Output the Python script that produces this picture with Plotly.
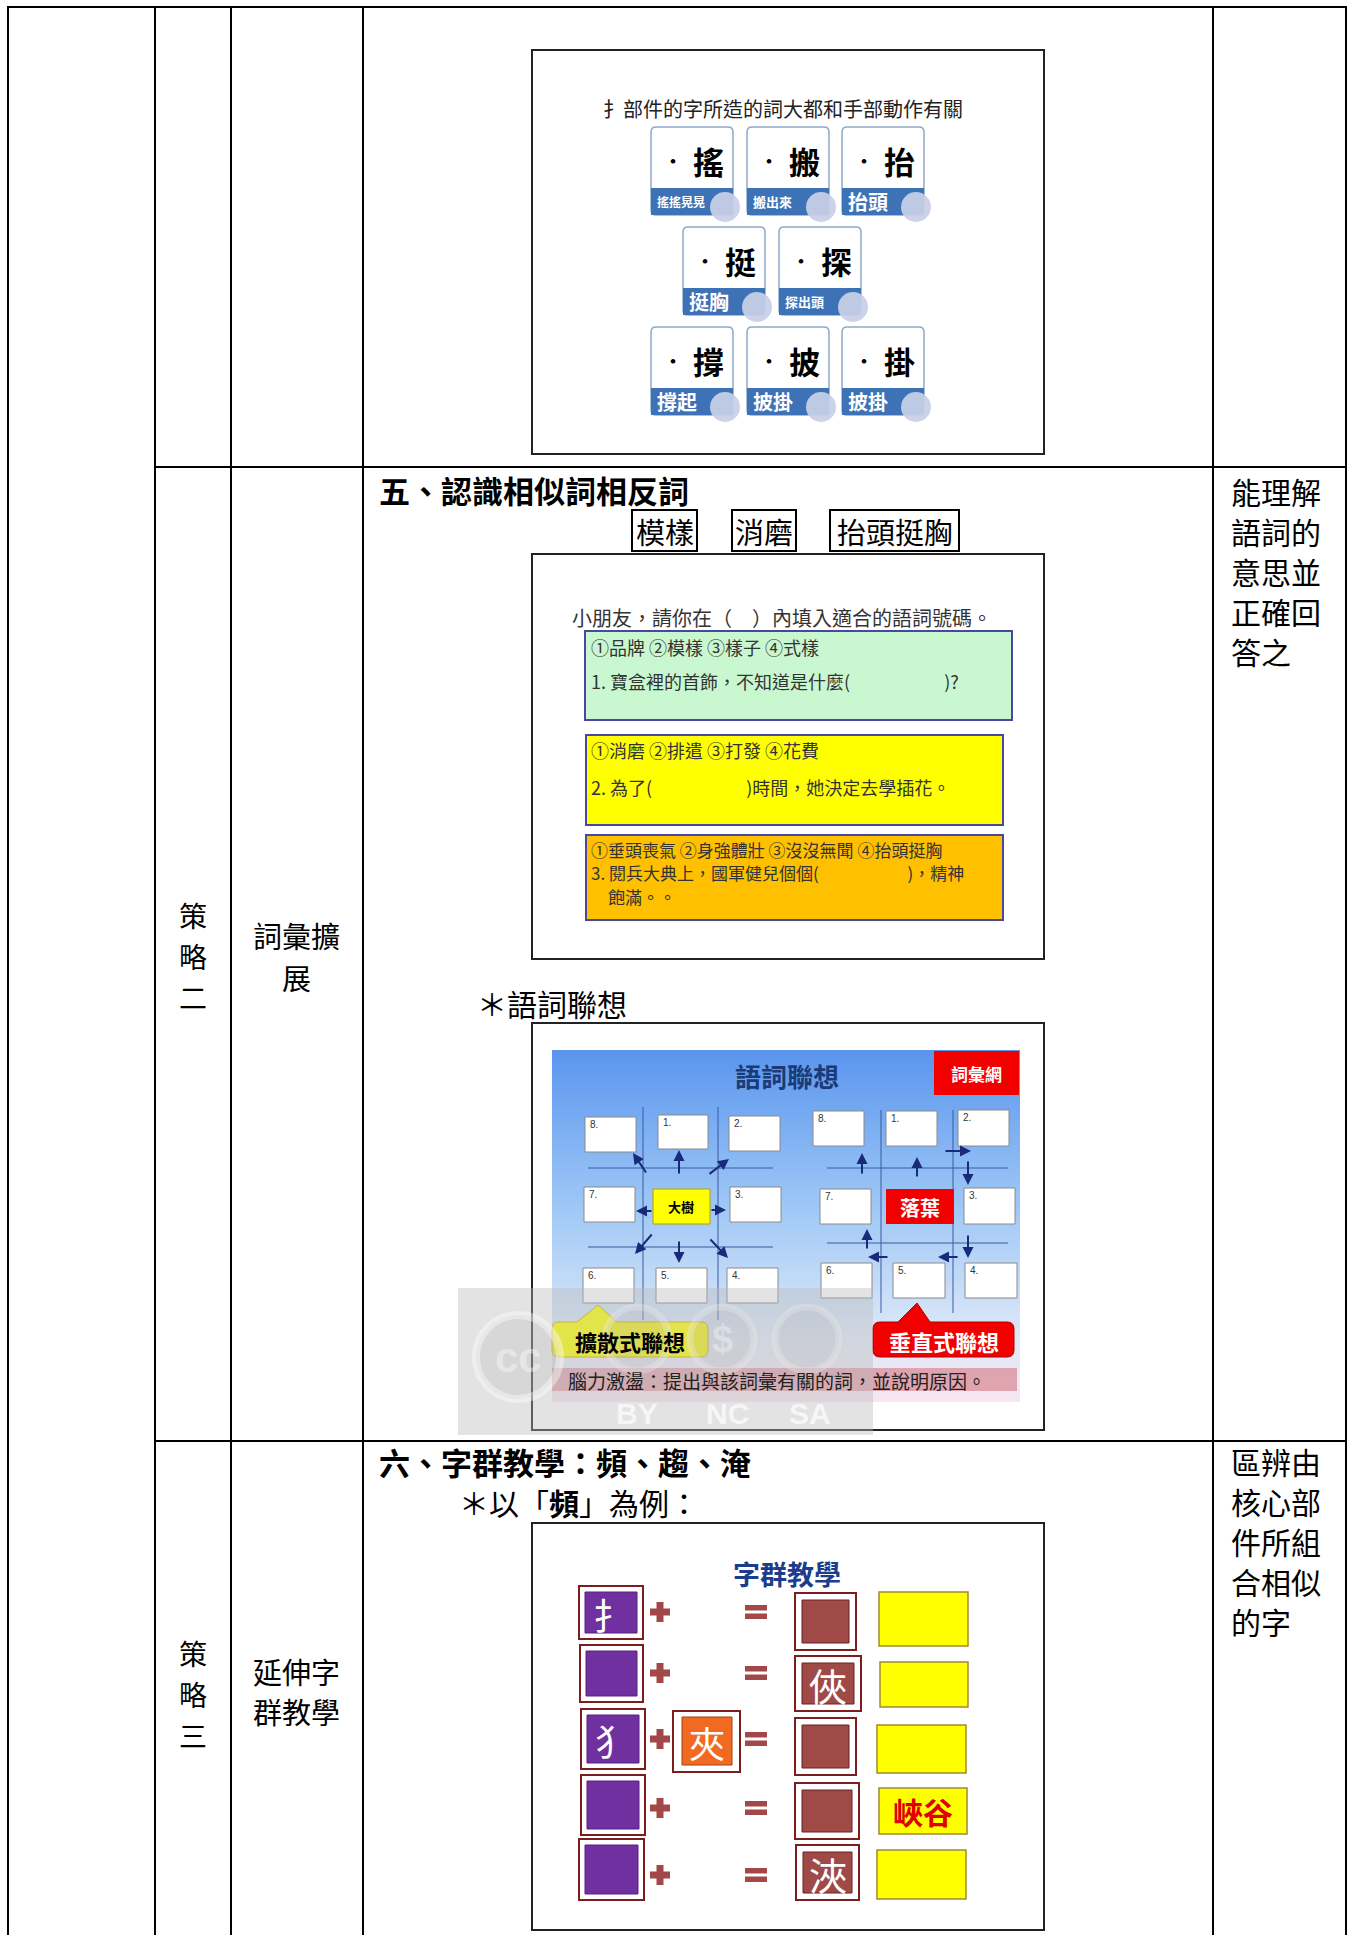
import plotly.graph_objects as go

W, H = 1353, 1935
FONT = "Noto Sans CJK TC"
LATIN = "Liberation Sans"

# ---------------- text content ----------------
strategy_labels = [["策", "略", "二"], ["策", "略", "三"]]
strategy_names = [["詞彙擴", "展"], ["延伸字", "群教學"]]
goal_texts = [["能理解", "語詞的", "意思並", "正確回", "答之"],
              ["區辨由", "核心部", "件所組", "合相似", "的字"]]
section_titles = ["五、認識相似詞相反詞", "六、字群教學：頻、趨、淹"]
boxed_words = ["模樣", "消磨", "抬頭挺胸"]
sub_headings = ["＊語詞聯想", "＊以「<b>頻</b>」為例："]

slide1_title = "扌部件的字所造的詞大都和手部動作有關"
card_chars = ["搖", "搬", "抬", "挺", "探", "撐", "披", "掛"]
card_words = ["搖搖晃晃", "搬出來", "抬頭", "挺胸", "探出頭", "撐起", "披掛", "披掛"]

quiz_prompt = "小朋友，請你在（　）內填入適合的語詞號碼。"
quiz_options = ["①品牌 ②模樣 ③樣子 ④式樣",
                "①消磨 ②排遣 ③打發 ④花費",
                "①垂頭喪氣 ②身強體壯 ③沒沒無聞 ④抬頭挺胸"]
quiz_questions = [["1. 寶盒裡的首飾，不知道是什麼(　　　　　 )?"],
                  ["2. 為了(　　　　　 )時間，她決定去學插花。"],
                  ["3. 閱兵大典上，國軍健兒個個(　　　　　 )，精神", "　飽滿。。"]]

assoc_title = "語詞聯想"
assoc_tag = "詞彙網"
assoc_centers = ["大樹", "落葉"]
assoc_numbers = ["1.", "2.", "3.", "4.", "5.", "6.", "7.", "8."]
assoc_modes = ["擴散式聯想", "垂直式聯想"]
assoc_note = "腦力激盪：提出與該詞彙有關的詞，並說明原因。"
cc_labels = ["BY", "NC", "SA"]

group_title = "字群教學"
group_radicals = ["扌", "", "犭", "", ""]
group_core = "夾"
group_results = ["", "俠", "", "", "浹"]
group_words = ["", "", "", "峽谷", ""]

# ---------------- helpers ----------------
shapes = []
anns = []


def rect(x0, y0, x1, y1, fill="rgba(0,0,0,0)", lc="rgba(0,0,0,0)", lw=0):
    shapes.append(dict(type="rect", xref="x", yref="y", x0=x0, y0=y0, x1=x1, y1=y1,
                       fillcolor=fill, line=dict(color=lc, width=lw)))


def line(x0, y0, x1, y1, color="black", width=2):
    shapes.append(dict(type="line", xref="x", yref="y", x0=x0, y0=y0, x1=x1, y1=y1,
                       line=dict(color=color, width=width)))


def circle(cx, cy, r, fill, lc="rgba(0,0,0,0)", lw=0):
    shapes.append(dict(type="circle", xref="x", yref="y", x0=cx - r, y0=cy - r,
                       x1=cx + r, y1=cy + r, fillcolor=fill, line=dict(color=lc, width=lw)))


def path(p, fill, lc="rgba(0,0,0,0)", lw=0):
    shapes.append(dict(type="path", xref="x", yref="y", path=p, fillcolor=fill,
                       line=dict(color=lc, width=lw)))


def rrect(x0, y0, x1, y1, r):
    return (f"M{x0+r},{y0} L{x1-r},{y0} Q{x1},{y0} {x1},{y0+r} L{x1},{y1-r} "
            f"Q{x1},{y1} {x1-r},{y1} L{x0+r},{y1} Q{x0},{y1} {x0},{y1-r} "
            f"L{x0},{y0+r} Q{x0},{y0} {x0+r},{y0} Z")


def callout(x0, y0, x1, y1, bl, tx, ty, br, r=7):
    return (f"M{x0+r},{y0} L{bl},{y0} L{tx},{ty} L{br},{y0} L{x1-r},{y0} "
            f"Q{x1},{y0} {x1},{y0+r} L{x1},{y1-r} Q{x1},{y1} {x1-r},{y1} "
            f"L{x0+r},{y1} Q{x0},{y1} {x0},{y1-r} L{x0},{y0+r} Q{x0},{y0} {x0+r},{y0} Z")


def text(x, y, s, size, color="black", bold=False, xa="center", ya="middle", family=FONT):
    if bold:
        s = "<b>" + s + "</b>"
    anns.append(dict(x=x, y=y, xref="x", yref="y", text=s, showarrow=False,
                     xanchor=xa, yanchor=ya, borderpad=0,
                     font=dict(family=family, size=size, color=color)))


def arrow(tx, ty, hx, hy, color="#1a2a7a"):
    anns.append(dict(x=hx, y=hy, ax=tx, ay=ty, xref="x", yref="y", axref="x", ayref="y",
                     text="", showarrow=True, arrowhead=2, arrowsize=1.1, arrowwidth=2,
                     arrowcolor=color, standoff=0, startstandoff=0))


fig = go.Figure()

# ---------------- table grid ----------------
col_x = [8, 155, 231, 363, 1213, 1346]
for x in col_x:
    line(x, 7, x, H + 5)
line(col_x[0] - 1, 7, col_x[-1] + 1, 7)
for y in [467, 1441]:
    line(col_x[1], y, col_x[-1] + 1, y)

# left columns text
strat_y = [[915, 956, 997], [1653, 1694, 1735]]
name_y = [[935, 977], [1671, 1711]]
for k in range(2):
    for ch, y in zip(strategy_labels[k], strat_y[k]):
        text(193, y, ch, 28)
    for s, y in zip(strategy_names[k], name_y[k]):
        text(296, y, s, 29)

goal_y = [[491, 531, 571, 611, 651], [1461, 1501, 1541, 1581, 1621]]
for k in range(2):
    for s, y in zip(goal_texts[k], goal_y[k]):
        text(1230, y, s, 30, xa="left")

# section titles
text(378, 489, section_titles[0], 31, bold=True, xa="left")
text(378, 1461, section_titles[1], 31, bold=True, xa="left")
text(476, 1003, sub_headings[0], 30, xa="left")
text(458, 1502, sub_headings[1], 30, xa="left")

box_geo = [(632, 697), (732, 796), (830, 959)]
for w, (x0, x1) in zip(boxed_words, box_geo):
    rect(x0, 510, x1, 551, lc="black", lw=2)
    text((x0 + x1) / 2, 531, w, 29)

# ---------------- slide 1 : cards ----------------
rect(532, 50, 1044, 454, lc="#222", lw=2)
text(783, 108, slide1_title, 20, color="#222")
card_pos = [(651, 127), (747, 127), (842, 127),
            (683, 227), (779, 227),
            (651, 327), (747, 327), (842, 327)]
label_sizes = [12, 13, 20, 20, 13, 20, 20, 20]
CW, CH, BAND = 82, 88, 27
for ch, wd, (cx, cy), ls in zip(card_chars, card_words, card_pos, label_sizes):
    path(rrect(cx, cy, cx + CW, cy + CH, 5), "white", "#8fa9c9", 1.5)
    rect(cx, cy + CH - BAND, cx + CW, cy + CH, fill="#3d72b6")
    circle(cx + CW - 8, cy + CH - 8, 15, "rgba(200,208,230,0.93)")
    text(cx + 22, cy + 33, "•", 18, bold=True)
    text(cx + 57, cy + 33, ch, 31, bold=True)
    text(cx + 5, cy + CH - BAND / 2, wd, ls, color="white", bold=True, xa="left")

# ---------------- slide 2 : quiz ----------------
rect(532, 554, 1044, 959, lc="#222", lw=2)
text(571, 617, quiz_prompt, 20, color="#333", xa="left")
quiz_boxes = [(585, 631, 1012, 720, "#c8f7d0"),
              (586, 735, 1003, 825, "#ffff00"),
              (586, 835, 1003, 920, "#ffc000")]
opt_y = [647, 750, 849]
q_y = [[681], [787], [872, 896]]
q_size = [18, 18, 17]
for (x0, y0, x1, y1, col), opt, qs, oy, qys, qs_ in zip(quiz_boxes, quiz_options,
                                                        quiz_questions, opt_y, q_y, q_size):
    rect(x0, y0, x1, y1, fill=col, lc="#4848a0", lw=2)
    text(590, oy, opt, qs_, color="#333", xa="left")
    for q, y in zip(qs, qys):
        text(590, y, q, qs_, color="#333", xa="left")

# ---------------- slide 3 : word association ----------------
gx0, gy0, gx1, gy1 = 552, 1050, 1020, 1402
fig.add_trace(go.Scatter(
    x=[gx0, gx1, gx1, gx0, gx0], y=[gy0, gy0, gy1, gy1, gy0],
    mode="lines", line=dict(width=0), fill="toself", hoverinfo="skip",
    fillgradient=dict(type="vertical", start=gy0, stop=gy1,
                      colorscale=[[0, "#5a95ee"], [0.45, "#9fc8f6"],
                                  [0.82, "#dfe9f8"], [1, "#f8e6f1"]]),
    showlegend=False))
rect(532, 1023, 1044, 1430, lc="#222", lw=2)

text(787, 1075, assoc_title, 26, color="#1b3a78", bold=True)
rect(934, 1051, 1019, 1095, fill="#f20000")
text(976, 1073, assoc_tag, 17, color="white", bold=True)

# grid lines
for x in (643, 718):
    line(x, 1107, x, 1320, color="#3a5aa0", width=1)
for y in (1168, 1247):
    line(588, y, 773, y, color="#3a5aa0", width=1)
for x in (881, 953):
    line(x, 1110, x, 1313, color="#3a5aa0", width=1)
for y in (1168, 1243):
    line(827, y, 1008, y, color="#3a5aa0", width=1)

left_boxes = [(658, 708, 1115, 1149), (729, 780, 1116, 1151), (730, 781, 1187, 1222),
              (727, 778, 1268, 1303), (656, 707, 1268, 1303), (583, 634, 1268, 1303),
              (584, 635, 1187, 1222), (585, 636, 1117, 1152)]
right_boxes = [(886, 937, 1111, 1146), (958, 1009, 1110, 1146), (964, 1015, 1188, 1224),
               (965, 1017, 1263, 1298), (893, 945, 1263, 1298), (821, 872, 1263, 1298),
               (820, 871, 1189, 1224), (813, 864, 1111, 1146)]
for boxes in (left_boxes, right_boxes):
    for num, (x0, x1, y0, y1) in zip(assoc_numbers, boxes):
        rect(x0, y0, x1, y1, fill="white", lc="#8a8a8a", lw=1)
        text(x0 + 4, y0 + 7, num, 10, color="#333", xa="left", family=LATIN)

rect(653, 1189, 710, 1224, fill="#ffff00", lc="#b0a000", lw=1)
text(681, 1206, assoc_centers[0], 13, bold=True)
rect(886, 1189, 954, 1224, fill="#f20000")
text(920, 1207, assoc_centers[1], 20, color="white", bold=True)

left_arrows = [((679, 1175), (679, 1150)), ((647, 1174), (633, 1153)),
               ((708, 1175), (729, 1159)), ((653, 1211), (636, 1211)),
               ((710, 1210), (726, 1210)), ((653, 1233), (635, 1254)),
               ((679, 1240), (679, 1263)), ((709, 1238), (728, 1258))]
right_arrows = [((862, 1175), (862, 1153)), ((917, 1178), (917, 1157)),
                ((944, 1151), (971, 1151)), ((968, 1160), (968, 1185)),
                ((968, 1234), (968, 1258)), ((959, 1257), (938, 1257)),
                ((889, 1257), (868, 1257)), ((867, 1250), (867, 1229))]
for (t, h) in left_arrows + right_arrows:
    arrow(t[0], t[1], h[0], h[1])

path(callout(552, 1322, 708, 1357, 577, 598, 1305, 617), "#ffff00", "#c9b400", 1)
text(630, 1341, assoc_modes[0], 22, bold=True)
path(callout(873, 1322, 1014, 1357, 898, 917, 1303, 930), "#f20000", "#b00000", 1)
text(944, 1341, assoc_modes[1], 22, color="white", bold=True)

rect(552, 1368, 1017, 1391, fill="rgba(210,110,120,0.55)")
text(567, 1380, assoc_note, 19, color="#222", xa="left")

# CC watermark
rect(458, 1288, 873, 1435, fill="rgba(185,185,185,0.40)")
circle(518, 1357, 42, "rgba(170,170,170,0.2)", "rgba(255,255,255,0.4)", 8)
for cx in (637, 722, 807):
    circle(cx, 1339, 32, "rgba(170,170,170,0.15)", "rgba(235,235,235,0.35)", 7)
text(518, 1357, "cc", 42, color="rgba(255,255,255,0.4)", bold=True, family=LATIN)
text(722, 1339, "$", 38, color="rgba(255,255,255,0.35)", bold=True, family=LATIN)
for lab, cx in zip(cc_labels, (637, 727, 810)):
    text(cx, 1413, lab, 30, color="rgba(255,255,255,0.7)", bold=True, family=LATIN)

# ---------------- slide 4 : character groups ----------------
rect(532, 1523, 1044, 1930, lc="#222", lw=2)
text(787, 1573, group_title, 27, color="#1c3d8c", bold=True)

purple_boxes = [(579, 643, 1586, 1639), (580, 643, 1645, 1702), (581, 645, 1709, 1769),
                (581, 645, 1775, 1835), (579, 644, 1839, 1900)]
row_y = [1612, 1673, 1739, 1808, 1875]
brown_boxes = [(795, 856, 1593, 1650), (795, 861, 1656, 1711), (795, 856, 1718, 1775),
               (795, 859, 1783, 1839), (796, 859, 1845, 1900)]
yellow_boxes = [(879, 968, 1592, 1646), (880, 968, 1662, 1707), (877, 966, 1725, 1773),
                (879, 967, 1788, 1834), (877, 966, 1850, 1899)]
FRAME = "#7d1e1e"
MARK = "#a34848"
for rad, res, wd, pb, ry, bb, yb in zip(group_radicals, group_results, group_words,
                                        purple_boxes, row_y, brown_boxes, yellow_boxes):
    x0, x1, y0, y1 = pb
    rect(x0, y0, x1, y1, fill="white", lc=FRAME, lw=2)
    rect(x0 + 6, y0 + 6, x1 - 6, y1 - 6, fill="#7030a0", lc="#5a2080", lw=1)
    if rad:
        text((x0 + x1) / 2, (y0 + y1) / 2 + 1, rad, 36, color="white")
    # plus
    rect(650, ry - 3.5, 670, ry + 3.5, fill=MARK)
    rect(656.5, ry - 10, 663.5, ry + 10, fill=MARK)
    # equals
    rect(745, ry - 7, 767, ry - 1.5, fill=MARK)
    rect(745, ry + 1.5, 767, ry + 7, fill=MARK)
    x0, x1, y0, y1 = bb
    rect(x0, y0, x1, y1, fill="white", lc=FRAME, lw=2)
    rect(x0 + 7, y0 + 7, x1 - 7, y1 - 7, fill="#a04a48", lc="#6a2020", lw=1)
    if res:
        text((x0 + x1) / 2, (y0 + y1) / 2 + 1, res, 38, color="white")
    x0, x1, y0, y1 = yb
    rect(x0, y0, x1, y1, fill="#ffff00", lc="#a08a30", lw=1.5)
    if wd:
        text((x0 + x1) / 2, (y0 + y1) / 2, wd, 30, color="#e00000", bold=True)

rect(673, 1711, 740, 1772, fill="white", lc=FRAME, lw=2)
rect(682, 1717, 732, 1765, fill="#f26a22", lc="#a04010", lw=1)
text(707, 1742, group_core, 36, color="white")

# ---------------- layout ----------------
fig.update_layout(
    width=W, height=H, margin=dict(l=0, r=0, t=0, b=0),
    paper_bgcolor="white", plot_bgcolor="white",
    xaxis=dict(range=[0, W], visible=False, fixedrange=True),
    yaxis=dict(range=[H, 0], visible=False, fixedrange=True),
    shapes=shapes, annotations=anns, showlegend=False,
)
fig.write_html("out.html", config={"displayModeBar": False},
               post_script="document.body.style.margin='0';")
